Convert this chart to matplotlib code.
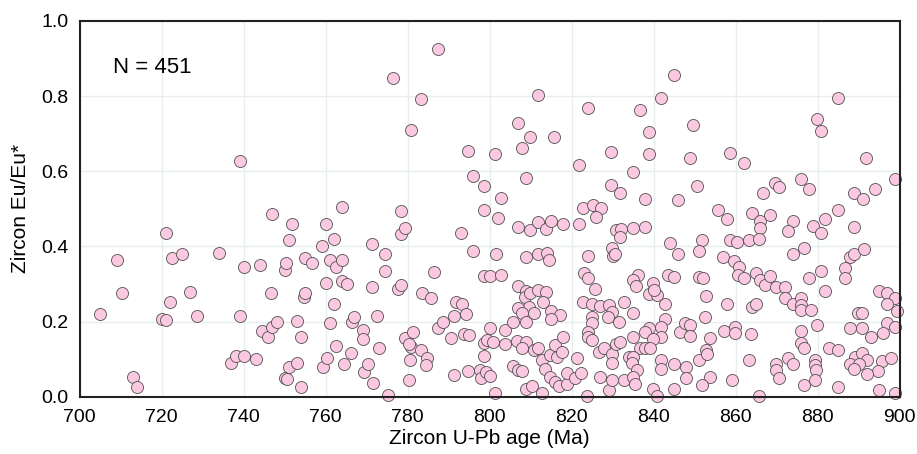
import matplotlib.pyplot as plt

# zircon U-Pb age (Ma) and Eu/Eu*, grouped by age window
age_ma = [
    705, 709, 710.2, 713, 714, 720, 721, 721, 722, 722.5, 725, 726.8, 728.7, 734, 737, 738, 739, 739, 740, 740,
    743, 744, 744.5, 746, 746.7, 747, 747, 748, 750, 750.5, 750, 750.3, 751, 751, 751.8, 753, 753, 754, 754, 754.6,
    755, 755, 756.6, 759, 759.3, 760, 760, 760.3, 761, 761, 762, 762, 762.4, 762.4, 764, 764, 764, 764.4, 765.3, 766.2,
    766.4, 767, 769.2, 769.2, 769.4, 770.4, 771.3, 771.4, 771.6, 772.4, 773, 774.4, 774.4, 775.3, 776.4, 777.6, 778.4, 778.4, 778.4, 779.4,
    779.4, 780.3, 780.6, 780.7, 780.2, 780.9, 781.4, 783.2, 783.3, 783.4, 784.7, 784.5, 785.7, 786.5, 787.3, 787.5, 788.5, 790.5,
    # 790-802
    791.8, 793.2, 791.4, 794.2, 793.7, 795, 798.7, 799.3, 800.1, 800.7, 798.6, 791.2, 794.8, 797.7, 797.8, 799.1, 800.1, 801.2,
    794.8, 795.9, 798.6, 798.7, 793.1, 795.9, 801.6, 798.7, 800.1, 801.2,
    # 802-835
    811.8, 823.9, 806.8, 809.9, 807.8, 815.8, 829.7, 821.8, 808.8, 829.7, 831.8, 802.8, 822.8, 825.1, 827.2, 825.9, 802.1,
    807, 809.8, 811.9, 813.7, 814.9, 817.9, 821.8, 830.8, 832.1, 831.8, 829.8, 830, 830.5, 808.8, 811.8, 813.9, 814.5, 824.1,
    802.8, 822.9, 823.9, 825.7, 806.8, 808.8, 808.7, 809.9, 811.8, 813.7, 813.1, 809.5, 806.8, 807.8, 808.8, 810.7, 814.9,
    817.2, 814.9, 822.7, 824.9, 826.8, 829, 829.8, 828.8, 831.6, 832.8, 824.9, 824.9, 824.1, 823.9, 824.9, 803.8, 805.8,
    803.8, 806.6, 808.8, 807.8, 805.8, 807, 807.8, 810.7, 811.9, 812.7, 813.4, 814.8, 816.4, 816, 817.6, 817.9, 821.3,
    808.8, 810.3, 812.7, 814.8, 816, 817, 818.8, 818.8, 820.7, 822.2, 823.7, 827, 829, 829.8, 832.7, 826.6, 827.8, 829.8,
    829.8, 830.8, 831.8, 833.9,
    # 835-868
    844.9, 841.8, 836.7, 849.7, 838.8, 838.8, 848.9, 858.7, 862, 834.9, 850.7, 837.8, 845.9, 866.8, 855.8, 857.9, 864, 866,
    866, 868.3, 834.9, 837.8, 843.9, 845.9, 851.8, 851, 858.7, 860.3, 863.2, 865.8, 856.9, 859.7, 860.9, 860.7, 862, 865,
    866, 867.2, 868.3, 836.3, 834.9, 835.7, 839.8, 838.8, 840.8, 840, 842.8, 843.6, 844.9, 851, 852, 852.8, 857.9, 864,
    865, 842.8, 841.8, 841.8, 838.8, 837.8, 839.8, 834.9, 834.9, 846.5, 847.7, 848.9, 848.9, 852.6, 853.8, 857.1, 859.9,
    859.9, 863.8, 836.7, 837.9, 839.2, 834.9, 834.7, 835.9, 834.9, 835.5, 841.8, 841.8, 844.9, 848, 848, 851, 852.8, 853,
    853.8, 851.8, 859.1, 863.2, 839.8, 840.8, 844.9, 865.8,
    # 868-900
    884.9, 879.8, 880.9, 891.9, 899, 869.7, 870.7, 875.9, 877.8, 888.9, 891, 893.9, 884.9, 874, 872.9, 878.9, 880.9, 881.9,
    888.9, 874, 876.8, 887.8, 889, 891.2, 886.8, 886.8, 877.8, 880.9, 881.9, 869.9, 872, 872, 874, 875.9, 875.9, 875.9,
    878.5, 894.9, 897, 899, 897, 899.4, 889.8, 890.8, 879.8, 875.9, 888, 890.8, 893, 897, 895.9, 899, 875.9, 876.8, 882.7,
    884.9, 889.2, 890.8, 892, 895.7, 898, 894.7, 872.8, 874, 869.9, 869.9, 870.7, 879.4, 879.4, 879.7, 879.4, 876.8, 887.8,
    890, 888.8, 892, 884.9, 894.9, 899,
]
eu_anomaly = [
    0.219, 0.363, 0.277, 0.052, 0.025, 0.208, 0.204, 0.437, 0.253, 0.370, 0.379, 0.278, 0.216, 0.382, 0.089, 0.108, 0.627, 0.214, 0.108, 0.346,
    0.100, 0.350, 0.176, 0.158, 0.275, 0.486, 0.186, 0.200, 0.049, 0.047, 0.337, 0.355, 0.417, 0.080, 0.459, 0.089, 0.202, 0.158, 0.027, 0.266,
    0.275, 0.370, 0.356, 0.401, 0.080, 0.303, 0.459, 0.102, 0.195, 0.365, 0.248, 0.421, 0.344, 0.136, 0.505, 0.363, 0.308, 0.086, 0.300, 0.117,
    0.200, 0.213, 0.177, 0.155, 0.065, 0.086, 0.293, 0.407, 0.037, 0.216, 0.130, 0.379, 0.334, 0.006, 0.847, 0.288, 0.495, 0.434, 0.297, 0.157,
    0.450, 0.044, 0.098, 0.133, 0.140, 0.709, 0.173, 0.791, 0.124, 0.277, 0.102, 0.084, 0.263, 0.332, 0.925, 0.183, 0.199, 0.157,
    0.252, 0.246, 0.215, 0.220, 0.168, 0.164, 0.142, 0.151, 0.182, 0.146, 0.108, 0.058, 0.068, 0.071, 0.049, 0.066, 0.055, 0.009,
    0.655, 0.588, 0.560, 0.498, 0.437, 0.388, 0.379, 0.322, 0.322, 0.645,
    0.802, 0.767, 0.729, 0.690, 0.662, 0.690, 0.652, 0.616, 0.582, 0.563, 0.543, 0.530, 0.503, 0.510, 0.501, 0.477, 0.475,
    0.452, 0.445, 0.464, 0.446, 0.468, 0.461, 0.461, 0.445, 0.447, 0.424, 0.397, 0.374, 0.379, 0.371, 0.381, 0.383, 0.363, 0.375,
    0.325, 0.328, 0.315, 0.288, 0.294, 0.281, 0.266, 0.275, 0.285, 0.279, 0.253, 0.239, 0.237, 0.222, 0.198, 0.222, 0.229,
    0.217, 0.206, 0.253, 0.248, 0.241, 0.244, 0.226, 0.213, 0.199, 0.253, 0.213, 0.195, 0.173, 0.160, 0.152, 0.177, 0.199,
    0.140, 0.149, 0.146, 0.129, 0.082, 0.071, 0.068, 0.124, 0.129, 0.098, 0.075, 0.111, 0.106, 0.137, 0.120, 0.160, 0.102,
    0.022, 0.028, 0.009, 0.053, 0.040, 0.028, 0.035, 0.062, 0.049, 0.062, 0.002, 0.053, 0.018, 0.046, 0.044, 0.120, 0.129, 0.115,
    0.090, 0.140, 0.146, 0.106,
    0.855, 0.795, 0.764, 0.723, 0.705, 0.647, 0.636, 0.649, 0.622, 0.597, 0.561, 0.525, 0.523, 0.543, 0.496, 0.473, 0.488, 0.468,
    0.448, 0.483, 0.448, 0.452, 0.410, 0.379, 0.417, 0.388, 0.417, 0.412, 0.417, 0.419, 0.372, 0.362, 0.344, 0.324, 0.315, 0.330,
    0.310, 0.297, 0.322, 0.325, 0.310, 0.294, 0.303, 0.273, 0.270, 0.285, 0.248, 0.325, 0.319, 0.319, 0.316, 0.268, 0.248, 0.238,
    0.248, 0.206, 0.186, 0.160, 0.182, 0.173, 0.153, 0.222, 0.160, 0.173, 0.195, 0.192, 0.161, 0.213, 0.157, 0.176, 0.186,
    0.170, 0.167, 0.129, 0.131, 0.129, 0.106, 0.090, 0.071, 0.053, 0.035, 0.099, 0.075, 0.086, 0.078, 0.049, 0.099, 0.124, 0.115,
    0.053, 0.031, 0.046, 0.098, 0.022, 0.002, 0.022, 0.002,
    0.796, 0.740, 0.707, 0.636, 0.579, 0.569, 0.557, 0.579, 0.554, 0.543, 0.525, 0.553, 0.496, 0.468, 0.441, 0.454, 0.436, 0.473,
    0.452, 0.379, 0.397, 0.372, 0.379, 0.393, 0.343, 0.316, 0.316, 0.334, 0.281, 0.293, 0.291, 0.262, 0.246, 0.264, 0.244, 0.231,
    0.231, 0.282, 0.275, 0.264, 0.248, 0.229, 0.222, 0.222, 0.191, 0.175, 0.184, 0.182, 0.158, 0.195, 0.170, 0.186, 0.142, 0.129, 0.129,
    0.124, 0.106, 0.117, 0.098, 0.095, 0.102, 0.069, 0.102, 0.086, 0.086, 0.071, 0.051, 0.098, 0.084, 0.071, 0.044, 0.031, 0.087,
    0.087, 0.075, 0.060, 0.025, 0.018, 0.009,
]
x_ticks = [700, 720, 740, 760, 780, 800, 820, 840, 860, 880, 900]
y_ticks = [0.0, 0.2, 0.4, 0.6, 0.8, 1.0]

plt.rcParams['font.family'] = ['Liberation Sans', 'DejaVu Sans']

fig = plt.figure(figsize=(9.17, 4.54), dpi=100)
ax = fig.add_axes([0.087, 0.126, 0.894, 0.828])

ax.scatter(age_ma, eu_anomaly, s=75, c="#fbc8e1", edgecolors="#505050", linewidths=0.6, zorder=3, clip_on=False)

ax.set_xlim(700, 900)
ax.set_ylim(0, 1)
ax.set_xticks(x_ticks)
ax.set_yticks(y_ticks)
ax.set_yticklabels(["%.1f" % v for v in y_ticks])
ax.grid(True, color="#e8eeee", linewidth=1.0, zorder=0)
ax.set_axisbelow(True)
ax.tick_params(length=0, labelsize=14, colors="black")
ax.tick_params(axis="x", pad=9)
ax.tick_params(axis="y", pad=8)
for sp in ax.spines.values():
    sp.set_linewidth(1.5)
    sp.set_color("#222222")
    sp.set_zorder(4)

ax.set_xlabel("Zircon U-Pb age (Ma)", fontsize=15, labelpad=2)
ax.set_ylabel("Zircon Eu/Eu*", fontsize=15, labelpad=8)
ax.text(0.04, 0.862, "N = 451", transform=ax.transAxes, fontsize=16, va="baseline")

fig.savefig("out.png", dpi=100)
